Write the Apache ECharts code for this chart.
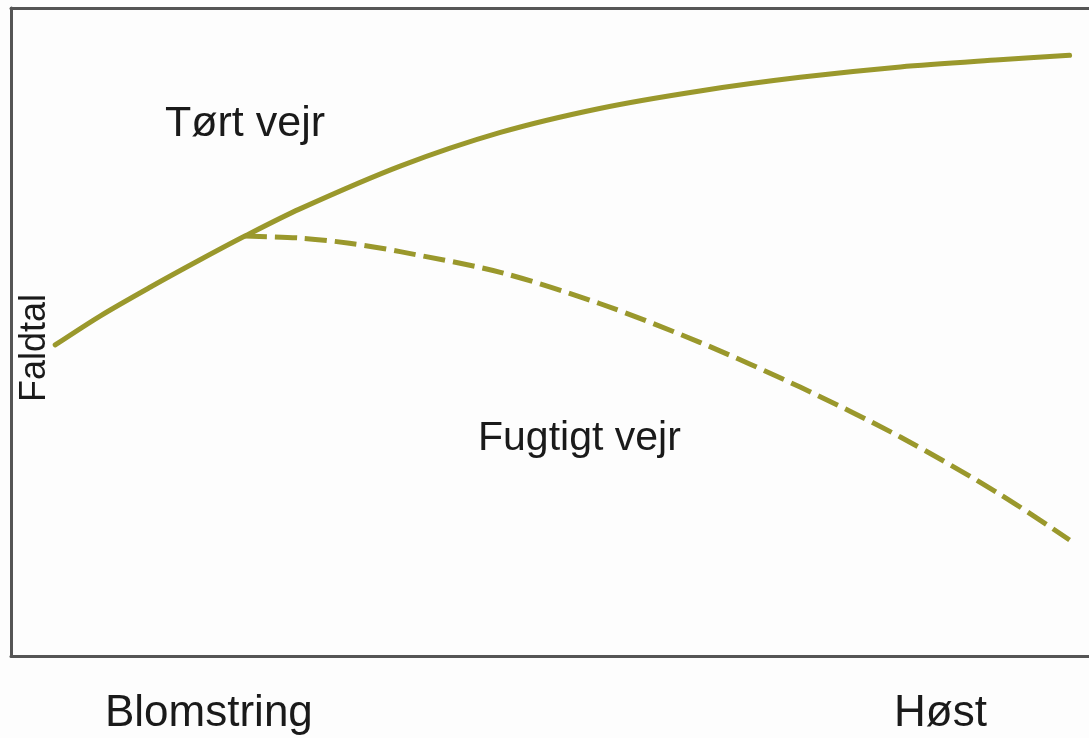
<!DOCTYPE html>
<html>
<head>
<meta charset="utf-8">
<script src="https://cdn.jsdelivr.net/npm/echarts@6/dist/echarts.min.js"></script>
<style>
  html, body { margin: 0; padding: 0; background: #fdfdfd; }
  #chart { width: 1089px; height: 738px; }
</style>
</head>
<body>
<div id="chart"></div>
<script>
// time runs 0..100 (Blomstring -> Høst), faldtal 0..100 (relative)
const dryX = [4.1, 8.3, 12.9, 17.5, 21.7, 26.8, 36.1, 45.4, 54.6, 63.9, 73.2, 82.5, 91.7, 98.2];
const dryY = [48.0, 52.5, 56.9, 61.1, 64.8, 69.0, 75.6, 80.8, 84.5, 87.2, 89.3, 90.9, 92.0, 92.7];
const wetX = [21.7, 26.8, 31.4, 36.1, 45.4, 54.6, 63.9, 73.2, 82.5, 91.7, 98.2];
const wetY = [64.8, 64.5, 63.7, 62.4, 59.2, 54.4, 48.4, 41.5, 33.8, 25.0, 17.9];

const xLabels = ['Blomstring', 'Høst'];
const seriesLabels = ['Tørt vejr', 'Fugtigt vejr'];
const yName = 'Faldtal';

const lineColor = '#9a982c';
const font = 'Liberation Sans, Arial, Helvetica, sans-serif';

const chart = echarts.init(document.getElementById('chart'));

const pairs = (xs, ys) => xs.map((x, i) => [x, ys[i]]);

const hiddenAxis = {
  axisTick: { show: false }, axisLabel: { show: false }, splitLine: { show: false }
};

const option = {
  backgroundColor: '#fdfdfd',
  animation: false,
  grid: { left: 11, right: 0, top: 8, bottom: 82, outerBoundsMode: 'none', containLabel: false },
  xAxis: [
    Object.assign({
      type: 'value', min: 0, max: 100, position: 'bottom',
      axisLine: { show: true, lineStyle: { color: '#555', width: 3 } }
    }, hiddenAxis),
    Object.assign({
      type: 'value', min: 0, max: 100, position: 'top',
      axisLine: { show: true, lineStyle: { color: '#555', width: 3 } }
    }, hiddenAxis)
  ],
  yAxis: Object.assign({
    type: 'value', min: 0, max: 100,
    axisLine: { show: true, lineStyle: { color: '#555', width: 3 } }
  }, hiddenAxis),
  graphic: [
    {
      type: 'text', x: 35, y: 348, rotation: Math.PI / 2,
      style: { text: yName, font: '36px ' + font, fill: '#1a1a1a', align: 'center', verticalAlign: 'middle' }
    },
    { type: 'text', left: 165, top: 103, style: { text: seriesLabels[0], font: '43px ' + font, fill: '#1a1a1a' } },
    { type: 'text', left: 478, top: 418, style: { text: seriesLabels[1], font: '41px ' + font, fill: '#1a1a1a' } },
    { type: 'text', left: 105, top: 692, style: { text: xLabels[0], font: '44px ' + font, fill: '#1a1a1a' } },
    { type: 'text', left: 894, top: 692, style: { text: xLabels[1], font: '44px ' + font, fill: '#1a1a1a' } }
  ],
  series: [
    {
      name: seriesLabels[0], type: 'line', smooth: 0.3, showSymbol: false,
      data: pairs(dryX, dryY),
      lineStyle: { color: lineColor, width: 5, cap: 'round' }
    },
    {
      name: seriesLabels[1], type: 'line', smooth: 0.3, showSymbol: false,
      data: pairs(wetX, wetY),
      lineStyle: { color: lineColor, width: 5, type: [22, 8] }
    }
  ]
};

chart.setOption(option);
</script>
</body>
</html>
